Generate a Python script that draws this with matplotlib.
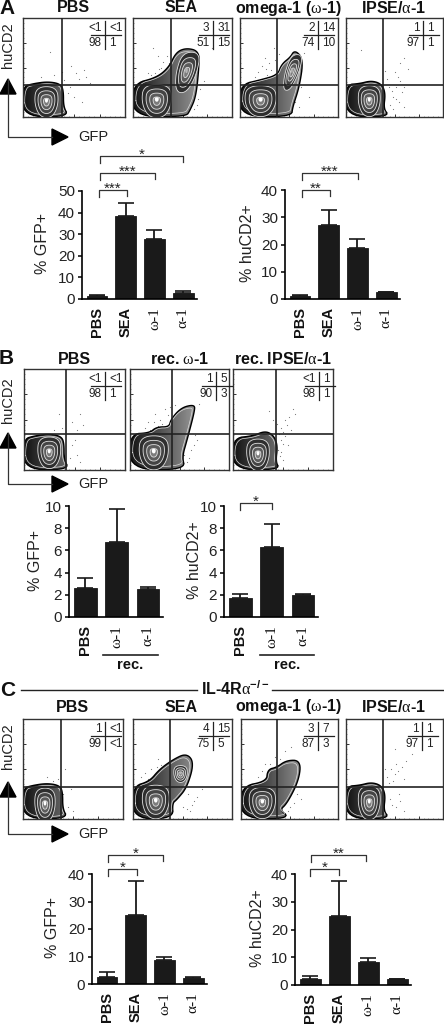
import numpy as np
import matplotlib
matplotlib.use('Agg')
import matplotlib.pyplot as plt
from matplotlib.patches import Polygon

plt.rcParams['font.family'] = ['Liberation Sans', 'DejaVu Sans']
plt.rcParams['mathtext.fontset'] = 'custom'
plt.rcParams['mathtext.rm'] = 'Liberation Serif'

W, H = 444, 1025
DARK = '#1a1a1a'
GREYS = ['#2e2e2e', '#444444', '#5c5c5c', '#7c7c7c']

# flow panels: each row has titles, quadrant percentages, gates
titles_a = ['PBS', 'SEA', 'omega-1 ($\\mathrm{\\omega}$-1)', 'IPSE/$\\mathrm{\\alpha}$-1']
quads_a = [['<1', '<1', '98', '1'], ['3', '31', '51', '15'], ['2', '14', '74', '10'], ['1', '1', '97', '1']]
titles_b = ['PBS', 'rec. $\\mathrm{\\omega}$-1', 'rec. IPSE/$\\mathrm{\\alpha}$-1']
quads_b = [['<1', '<1', '98', '1'], ['1', '5', '90', '3'], ['<1', '1', '98', '1']]
titles_c = ['PBS', 'SEA', 'omega-1 ($\\mathrm{\\omega}$-1)', 'IPSE/$\\mathrm{\\alpha}$-1']
quads_c = [['1', '<1', '99', '<1'], ['4', '15', '75', '5'], ['3', '7', '87', '3'], ['1', '1', '97', '1']]

# population outlines in plot percent (x, y)
neg_small = [(0, 1), (0, 30), (10, 33), (24, 35), (36, 33), (39, 27), (39, 10), (44, 1)]
neg_wide = [(0, 1), (0, 31), (20, 33), (32, 38), (40, 34), (44, 24), (42, 8), (46, 1)]
neg_alpha = [(0, 1), (0, 32), (14, 33), (26, 36), (36, 33), (40, 24), (38, 8), (44, 1)]
sea_a = [(0, 1), (0, 33), (24, 39), (37, 50), (44, 65), (54, 69), (66, 66), (66, 51), (63, 21), (57, 7), (53, 1)]
om_a = [(0, 1), (0, 32), (22, 37), (39, 42), (43, 53), (52, 60), (56, 67), (64, 58), (60, 31), (53, 10), (52, 1)]
om_b = [(0, 1), (0, 35), (20, 36), (27, 42), (40, 42), (42, 50), (52, 61), (64, 64), (65, 60), (57, 30), (52, 13), (55, 1)]
sea_c = [(0, 1), (0, 32), (17, 37), (27, 49), (41, 59), (54, 65), (61, 56), (54, 32), (44, 20), (39, 16), (40, 1)]
om_c = [(0, 1), (0, 32), (27, 37), (28, 49), (37, 51), (47, 58), (61, 58), (59, 39), (47, 16), (39, 9), (50, 1)]

# nested contour centres (cx, cy, rx, ry, tilt) in plot percent
lobes_a = [[(23, 15, 10, 13, 0)], [(24, 16, 13, 14, 0), (54, 45, 9, 17, 0.25)], [(21, 16, 14, 13, 0), (53, 45, 6, 15, 0.3)], [(24, 16, 10, 13, 0)]]
lobes_b = [[(25, 17, 10, 13, 0)], [(24, 17, 13, 14, 0)], [(25, 15, 10, 13, 0)]]
lobes_c = [[(22, 14, 9, 14, 0)], [(23, 17, 12, 14, 0), (48, 45, 6, 7, 0)], [(22, 16, 12, 13, 0)], [(24, 16, 10, 14, 0)]]
outlines_a = [neg_small, sea_a, om_a, neg_alpha]
outlines_b = [neg_small, om_b, neg_wide]
outlines_c = [neg_small, sea_c, om_c, neg_alpha]

# scattered events outside the main populations (x, y) in percent
dots_a = [[(26, 66), (38, 45), (52, 44), (60, 47), (62, 40), (46, 30), (50, 20), (58, 15), (30, 42), (55, 38), (47, 52), (66, 34), (44, 24), (40, 37), (18, 40)],
          [(28, 50), (36, 55), (25, 62), (22, 44), (30, 56), (18, 42), (26, 48), (33, 46), (15, 44), (20, 70), (34, 62), (68, 28), (65, 12), (72, 36), (80, 70), (62, 8), (66, 18)],
          [(25, 60), (30, 55), (27, 48), (18, 45), (35, 70), (22, 52), (32, 47), (36, 58), (28, 42), (15, 40), (62, 30), (56, 15), (65, 65), (70, 20), (40, 64), (60, 10)],
          [(15, 68), (40, 46), (52, 30), (48, 20), (55, 15), (60, 10), (50, 45), (56, 55), (64, 48), (58, 25), (45, 12), (56, 36), (47, 26), (52, 18), (44, 30), (60, 30), (42, 38), (48, 8), (54, 40), (60, 60)]]
dots_b = [[(35, 55), (30, 40), (52, 40), (55, 55), (48, 25), (52, 15), (46, 12), (55, 8), (48, 48), (38, 42), (50, 30), (58, 45)],
          [(25, 55), (30, 50), (20, 40), (35, 60), (15, 42), (40, 62), (62, 55), (66, 35), (55, 15), (58, 8), (28, 44), (70, 65), (32, 46), (24, 48), (38, 54), (18, 48), (62, 20), (65, 25), (60, 12), (68, 30), (34, 43), (45, 64)],
          [(40, 50), (48, 42), (52, 50), (48, 30), (45, 20), (55, 25), (50, 10), (60, 60), (36, 58), (58, 40), (46, 36), (50, 26), (47, 14), (54, 45), (50, 38), (44, 46), (48, 18), (52, 34), (56, 52), (62, 55)]]
dots_c = [[(24, 42), (30, 38), (40, 25), (45, 12), (50, 8), (42, 50), (28, 34), (35, 40), (48, 30)],
          [(25, 60), (18, 50), (30, 45), (12, 46), (20, 38), (60, 14), (65, 22), (70, 30), (58, 8), (36, 58), (24, 52), (15, 40), (28, 54), (8, 42), (62, 18), (55, 10), (50, 12), (56, 25)],
          [(45, 68), (52, 72), (30, 55), (22, 48), (60, 45), (62, 20), (50, 12), (40, 52), (35, 62), (18, 42), (25, 55), (55, 16), (58, 25), (48, 8), (40, 60)],
          [(42, 42), (46, 50), (50, 45), (58, 52), (60, 40), (50, 70), (45, 20), (52, 12), (60, 8), (68, 65), (55, 25), (40, 50), (48, 38), (54, 48), (44, 36), (52, 55), (62, 58), (47, 14), (56, 18)]]

# bar charts
labels4 = ['PBS', 'SEA', '\u03c9-1', '\u03b1-1']
labels3 = ['PBS', '\u03c9-1', '\u03b1-1']
gfp_a = [1.5, 38.2, 28.0, 2.7]
gfp_a_err = [0.2, 6.2, 3.8, 1.2]
cd2_a = [1.2, 27.2, 18.7, 2.4]
cd2_a_err = [0.2, 5.6, 3.2, 0.2]
gfp_b = [2.65, 6.75, 2.55]
gfp_b_err = [0.9, 2.95, 0.15]
cd2_b = [1.7, 6.3, 2.0]
cd2_b_err = [0.4, 2.1, 0.05]
gfp_c = [2.5, 25.0, 8.8, 2.2]
gfp_c_err = [2.0, 12.3, 1.2, 0.2]
cd2_c = [2.0, 24.8, 8.4, 2.0]
cd2_c_err = [1.2, 12.7, 1.2, 0.3]

fig = plt.figure(figsize=(W / 100, H / 100), dpi=100, facecolor='white')
full = fig.add_axes([0, 0, 1, 1])
full.set_xlim(0, W)
full.set_ylim(H, 0)
full.axis('off')
full.set_zorder(20)


def box(x0, y0, x1, y1):
    return fig.add_axes([x0 / W, 1 - y1 / H, (x1 - x0) / W, (y1 - y0) / H])


def smooth(pts, n=3):
    # corner cutting so hand read outlines look like contours
    p = np.array(pts, float)
    for i in range(n):
        q = np.roll(p, -1, axis=0)
        p = np.column_stack([0.75 * p + 0.25 * q, 0.25 * p + 0.75 * q]).reshape(-1, 2)
    return p


# contour shape, wide on top and narrow at the foot
SHIELD = smooth([(-1, -0.1), (-0.85, 1), (0.85, 1), (1, -0.1), (0.5, -1), (-0.5, -1)], 3)


def flow(x0, y0, x1, y1, gx, gy, outline, lobes, dots, quad, qx):
    ax = box(x0, y0, x1, y1)
    ax.set_xlim(0, 100)
    ax.set_ylim(0, 100)
    ax.set_xticks(np.arange(0, 101, 25))
    ax.set_yticks(np.arange(0, 101, 25))
    ax.set_xticks(np.arange(0, 101, 5), minor=True)
    ax.set_yticks(np.arange(0, 101, 5), minor=True)
    ax.tick_params(direction='in', length=2, width=0.7, labelbottom=False, labelleft=False, color='#333333')
    ax.tick_params(which='minor', direction='in', length=1, width=0.4, color='#555555')
    for s in ax.spines.values():
        s.set_linewidth(1.0)
        s.set_color('#333333')
    d = np.array(dots)
    ax.scatter(d[:, 0], d[:, 1], s=0.7, color='#777777', linewidths=0, zorder=1)
    poly = smooth(outline)
    ax.add_patch(Polygon(poly, closed=True, facecolor='none', edgecolor='black', linewidth=2.0, zorder=2))
    shade = Polygon(poly, closed=True, facecolor='none', edgecolor='none', zorder=2.1)
    ax.add_patch(shade)
    im = ax.imshow(np.linspace(0.08, 0.85, 64).reshape(1, -1), extent=[0, 100, 0, 100], aspect='auto',
                   cmap='gray', vmin=0, vmax=1, zorder=2.2)
    im.set_clip_path(shade)
    # light contour running just inside the outer edge
    cen = poly.mean(axis=0)
    ax.plot(*np.vstack([cen + (poly - cen) * 0.93, cen + (poly[0] - cen) * 0.93]).T, color='#dddddd', lw=0.5, zorder=2.4)
    for cx, cy, rx, ry, tilt in lobes:
        for k, sc in enumerate([1.2, 0.88, 0.58, 0.3]):
            xy = np.column_stack([cx + SHIELD[:, 0] * rx * sc + tilt * SHIELD[:, 1] * ry * sc, cy + SHIELD[:, 1] * ry * sc])
            ax.add_patch(Polygon(xy, closed=True, facecolor=GREYS[k], edgecolor='#e0e0e0', linewidth=0.6, zorder=3 + k))
        xy = np.column_stack([cx + SHIELD[:, 0] * rx * 0.16, cy + ry * 0.12 + SHIELD[:, 1] * ry * 0.16])
        ax.add_patch(Polygon(xy, closed=True, facecolor='white' if cy < 30 else '#b5b5b5', edgecolor='none', zorder=8))
    ax.axvline(gx, color='#222222', linewidth=1.2, zorder=9)
    ax.axhline(gy, color='#222222', linewidth=1.2, zorder=9)
    ax.set_xlim(0, 100)
    ax.set_ylim(0, 100)
    # quadrant stats
    full.plot([qx - 14, qx + 16], [y0 + 17, y0 + 17], color='#222222', lw=0.9)
    full.plot([qx, qx], [y0 + 3, y0 + 31], color='#222222', lw=0.9)
    for t, px, py, ha in [(quad[0], qx - 3.5, y0 + 10, 'right'), (quad[1], qx + 4.5, y0 + 10, 'left'),
                          (quad[2], qx - 3.5, y0 + 25, 'right'), (quad[3], qx + 4.5, y0 + 25, 'left')]:
        full.text(px, py, t, ha=ha, va='center', fontsize=8.5, color='#222222')


def axis_arrows(ytop, ycorner, xend, label_y):
    full.plot([8, 8, xend], [ytop, ycorner, ycorner], color='#333333', lw=0.9)
    full.add_patch(Polygon([(0, ytop + 15), (16, ytop + 15), (8, ytop)], closed=True, color='black'))
    full.add_patch(Polygon([(xend, ycorner - 8), (xend, ycorner + 8), (xend + 16, ycorner)], closed=True, color='black'))
    full.text(xend + 26, ycorner, 'GFP', ha='left', va='center', fontsize=10.5, color='#222222')
    full.text(8, label_y, 'huCD2', rotation=90, ha='center', va='center', fontsize=10.5, color='#222222')


def bars(x0, y0, x1, y1, vals, errs, labels, ymax, ticks, ylab, lab_x):
    ax = box(x0, y0, x1, y1)
    xs = np.arange(len(vals))
    lo, hi = -0.52, len(vals) - 0.52
    ax.bar(xs, vals, width=0.72, color=DARK, edgecolor=DARK, linewidth=0.6)
    ax.errorbar(xs, vals, yerr=[np.zeros(len(errs)), errs], fmt='none', ecolor=DARK, elinewidth=1.3, capsize=5.5, capthick=1.2)
    ax.set_xlim(lo, hi)
    ax.set_ylim(0, ymax)
    ax.set_yticks(ticks)
    ax.set_xticks([])
    ax.tick_params(axis='y', length=3, width=1.1, labelsize=11, pad=2, labelcolor='#222222')
    for s in ['top', 'right']:
        ax.spines[s].set_visible(False)
    ax.spines['left'].set_linewidth(1.2)
    ax.spines['bottom'].set_linewidth(1.2)
    full.text(lab_x, (y0 + y1) / 2 - 1, ylab, rotation=90, ha='center', va='center', fontsize=11.5, color='#222222')
    for i, t in enumerate(labels):
        px = x0 + (xs[i] - lo) / (hi - lo) * (x1 - x0)
        if t[0] in '\u03c9\u03b1':
            full.text(px, y1 + 8, t, rotation=90, ha='center', va='top', fontsize=11, family='Liberation Serif', color='#111111')
        else:
            full.text(px, y1 + 8, t, rotation=90, ha='center', va='top', fontsize=10.5, fontweight='bold', color='#111111')
    return ax


def bracket(x0, x1, y, stars, tick0=7, tick1=6):
    full.plot([x0, x0, x1, x1], [y + tick0, y, y, y + tick1], color='#333333', lw=0.9)
    full.text((x0 + x1) / 2, y - 1, stars, ha='center', va='center', fontsize=11, color='#222222')


def letter(t, x, y):
    full.text(x, y, t, ha='left', va='center', fontsize=15, fontweight='bold', color='#111111')


def title(t, x, y):
    full.text(x, y, t, ha='center', va='center', fontsize=11.5, fontweight='bold', color='#111111')


# panel A
letter('A', -1, 8)
rows_a = [(23, 125, 62), (133, 232, 171), (240, 338, 277), (346, 443, 383)]
qxs_a = [105, 213, 318, 423]
for (x0, x1, gv), tt, q, ol, lb, ds, qx in zip(rows_a, titles_a, quads_a, outlines_a, lobes_a, dots_a, qxs_a):
    flow(x0, 18, x1, 117, (gv - x0) / (x1 - x0) * 100, 32, ol, lb, ds, q, qx)
    title(tt, (x0 + x1) / 2 - 1, 8)
axis_arrows(79, 137, 52, 45)
bars(82, 191, 197, 299, gfp_a, gfp_a_err, labels4, 50, [0, 10, 20, 30, 40, 50], '% GFP+', 42)
bars(285, 190, 400, 299, cd2_a, cd2_a_err, labels4, 40, [0, 10, 20, 30, 40], '% huCD2+', 247)
bracket(99, 127, 190, '***')
bracket(100, 155, 173, '***')
bracket(100, 183, 156, '*')
bracket(302, 330, 190, '**')
bracket(302, 358, 173, '***')

# panel B
letter('B', -1, 359)
rows_b = [(24, 125, 66), (130, 229, 172), (233, 333, 276)]
qxs_b = [105, 216, 319]
for (x0, x1, gv), tt, q, ol, lb, ds, qx in zip(rows_b, titles_b, quads_b, outlines_b, lobes_b, dots_b, qxs_b):
    flow(x0, 369, x1, 470, (gv - x0) / (x1 - x0) * 100, 36, ol, lb, ds, q, qx)
    title(tt, (x0 + x1) / 2, 359)
axis_arrows(433, 484, 52, 400)
bars(69, 506, 163, 617, gfp_b, gfp_b_err, labels3, 10, [0, 2, 4, 6, 8, 10], '% GFP+', 35)
bars(224, 506, 318, 617, cd2_b, cd2_b_err, labels3, 10, [0, 2, 4, 6, 8, 10], '% huCD2+', 194)
bracket(240, 272, 503, '*')
for xa, xb, xt in [(103, 158, 130), (260, 314, 287)]:
    full.plot([xa, xb], [655, 655], color='#222222', lw=1.2)
    full.text(xt, 665, 'rec.', ha='center', va='center', fontsize=10.5, fontweight='bold', color='#111111')

# panel C
letter('C', 0, 690)
full.plot([21, 197], [690, 690], color='#222222', lw=1.0)
full.plot([272, 443], [690, 690], color='#222222', lw=1.0)
full.text(235, 689, 'IL-4R$\\mathrm{\\alpha}^{\\mathregular{-/-}}$', ha='center', va='center', fontsize=11.5, fontweight='bold', color='#111111')
rows_c = [(23, 123, 61), (133, 232, 170), (241, 338, 277), (346, 443, 383)]
qxs_c = [105, 213, 318, 422]
for (x0, x1, gv), tt, q, ol, lb, ds, qx in zip(rows_c, titles_c, quads_c, outlines_c, lobes_c, dots_c, qxs_c):
    flow(x0, 719, x1, 819, (gv - x0) / (x1 - x0) * 100, 32, ol, lb, ds, q, qx)
    title(tt, (x0 + x1) / 2 - 1, 707)
axis_arrows(782, 834, 52, 746)
bars(92, 874, 207, 984, gfp_c, gfp_c_err, labels4, 40, [0, 10, 20, 30, 40], '% GFP+', 52)
bars(295, 874, 411, 985, cd2_c, cd2_c_err, labels4, 40, [0, 10, 20, 30, 40], '% huCD2+', 257)
bracket(108, 137, 869, '*')
bracket(108, 163, 855, '*')
bracket(310, 339, 869, '*')
bracket(311, 366, 855, '**')

fig.savefig('out.png', dpi=100)
